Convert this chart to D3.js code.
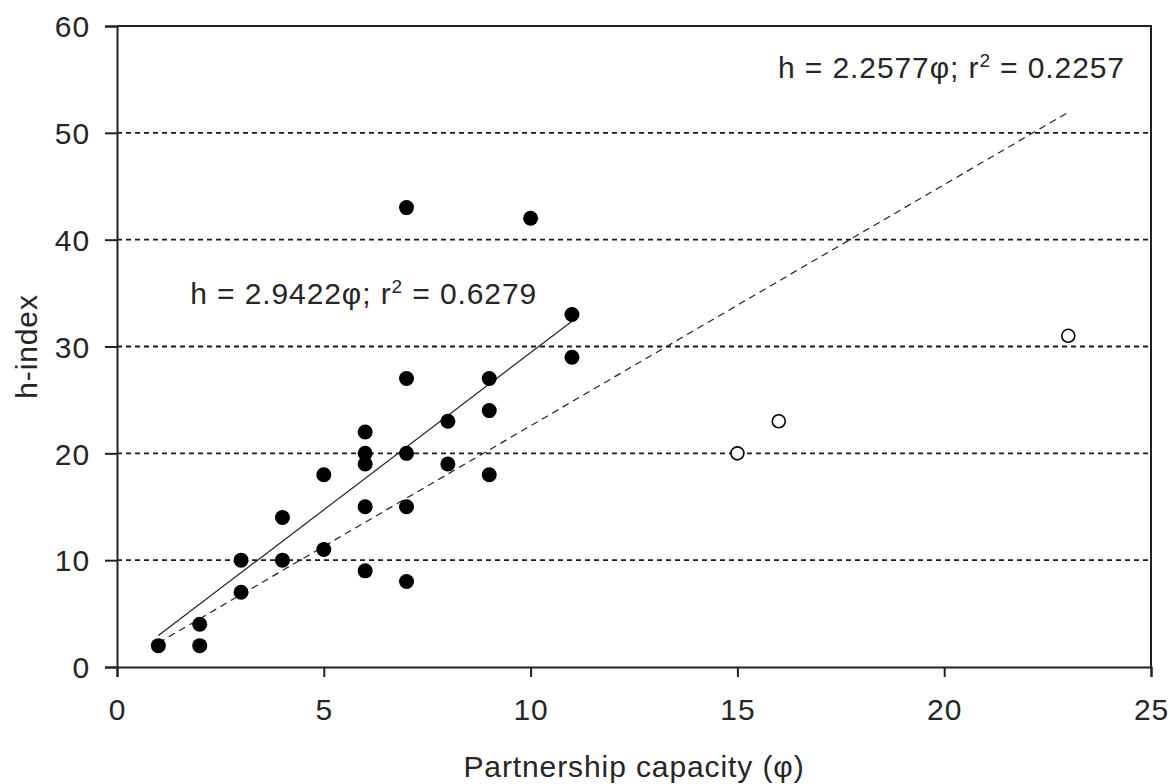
<!DOCTYPE html>
<html>
<head>
<meta charset="utf-8">
<script src="https://cdn.jsdelivr.net/npm/d3@7"></script>
<style>
  body { margin: 0; background: #fff; }
  text { font-family: "Liberation Sans", Arial, sans-serif; fill: #262626; letter-spacing: 0.9px; }
</style>
</head>
<body>
<div id="chart"></div>
<script>
// filled circles: researchers inside the fit
const phiFilled = [1, 2, 2, 3, 3, 4, 4, 5, 5, 6, 6, 6, 6, 6, 7, 7, 7, 7, 7, 8, 8, 9, 9, 9, 10, 11, 11];
const hFilled   = [2, 4, 2, 10, 7, 14, 10, 18, 11, 22, 20, 19, 15, 9, 43, 27, 20, 15, 8, 23, 19, 27, 24, 18, 42, 33, 29];

// open circles: outliers
const phiOpen = [15, 16, 23];
const hOpen   = [20, 23, 31];

// regression fits (through origin)
const fitSlopes = [2.9422, 2.2577];
const fitRanges = [[1, 11], [1, 23]];
const fitLabels = ["h = 2.9422φ; r", "h = 2.2577φ; r"];
const fitR2 = ["0.6279", "0.2257"];

const xTicks = [0, 5, 10, 15, 20, 25];
const yTicks = [0, 10, 20, 30, 40, 50, 60];

const width = 1175;
const height = 784;
const margin = { top: 26, right: 24, bottom: 117, left: 117 };

const svg = d3.select("#chart").append("svg")
  .attr("width", width)
  .attr("height", height);

const x = d3.scaleLinear().domain([0, 25]).range([margin.left, width - margin.right]);
const y = d3.scaleLinear().domain([0, 60]).range([height - margin.bottom, margin.top]);

// dashed gridlines
svg.append("g")
  .selectAll("line")
  .data(yTicks.filter(d => d > 0 && d < 60))
  .join("line")
  .attr("x1", x(0))
  .attr("x2", x(25))
  .attr("y1", d => y(d))
  .attr("y2", d => y(d))
  .attr("stroke", "#1a1a1a")
  .attr("stroke-width", 1.8)
  .attr("stroke-dasharray", "5,4");

// box: top and right
svg.append("path")
  .attr("d", `M${x(0)},${y(60)}H${x(25)}V${y(0)}`)
  .attr("fill", "none")
  .attr("stroke", "#222")
  .attr("stroke-width", 2);

const xAxis = svg.append("g")
  .attr("transform", `translate(0,${y(0)})`)
  .call(d3.axisBottom(x).tickValues(xTicks).tickSize(10).tickPadding(22));

const yAxis = svg.append("g")
  .attr("transform", `translate(${x(0)},0)`)
  .call(d3.axisLeft(y).tickValues(yTicks).tickSize(12).tickPadding(15));

[xAxis, yAxis].forEach(g => {
  g.select(".domain").attr("stroke", "#222").attr("stroke-width", 2);
  g.selectAll(".tick line").attr("stroke", "#222").attr("stroke-width", 2);
  g.selectAll(".tick text")
    .style("font-family", "'Liberation Sans', Arial, sans-serif")
    .style("font-size", "30px")
    .attr("fill", "#262626");
});
yAxis.selectAll(".tick text").attr("dy", "0.36em");

// trend lines
const line = d3.line().x(d => x(d[0])).y(d => y(d[1]));
fitSlopes.forEach((s, i) => {
  svg.append("path")
    .datum(fitRanges[i].map(p => [p, s * p]))
    .attr("d", line)
    .attr("fill", "none")
    .attr("stroke", "#222")
    .attr("stroke-width", 1.2)
    .attr("stroke-dasharray", i === 1 ? "7,5" : null);
});

// points
svg.append("g")
  .selectAll("circle")
  .data(phiFilled.map((p, i) => [p, hFilled[i]]))
  .join("circle")
  .attr("cx", d => x(d[0]))
  .attr("cy", d => y(d[1]))
  .attr("r", 7.5)
  .attr("fill", "#000");

svg.append("g")
  .selectAll("circle")
  .data(phiOpen.map((p, i) => [p, hOpen[i]]))
  .join("circle")
  .attr("cx", d => x(d[0]))
  .attr("cy", d => y(d[1]))
  .attr("r", 6.5)
  .attr("fill", "#fff")
  .attr("stroke", "#000")
  .attr("stroke-width", 1.6);

// equation labels
const labelPos = [
  { x: 1.77, y: 34.0, anchor: "start" },
  { x: 24.37, y: 55.1, anchor: "end" }
];
labelPos.forEach((p, i) => {
  const t = svg.append("text")
    .attr("x", x(p.x))
    .attr("y", y(p.y))
    .attr("text-anchor", p.anchor)
    .style("font-size", "30px");
  t.append("tspan").text(fitLabels[i]);
  t.append("tspan").attr("dy", -11).style("font-size", "19px").text("2");
  t.append("tspan").attr("dy", 11).text(" = " + fitR2[i]);
});

// axis titles
svg.append("text")
  .attr("x", (x(0) + x(25)) / 2)
  .attr("y", 777)
  .attr("text-anchor", "middle")
  .style("font-size", "30px")
  .text("Partnership capacity (φ)");

svg.append("text")
  .attr("transform", `translate(37,${y(30)}) rotate(-90)`)
  .attr("text-anchor", "middle")
  .style("font-size", "30px")
  .text("h-index");
</script>
</body>
</html>
